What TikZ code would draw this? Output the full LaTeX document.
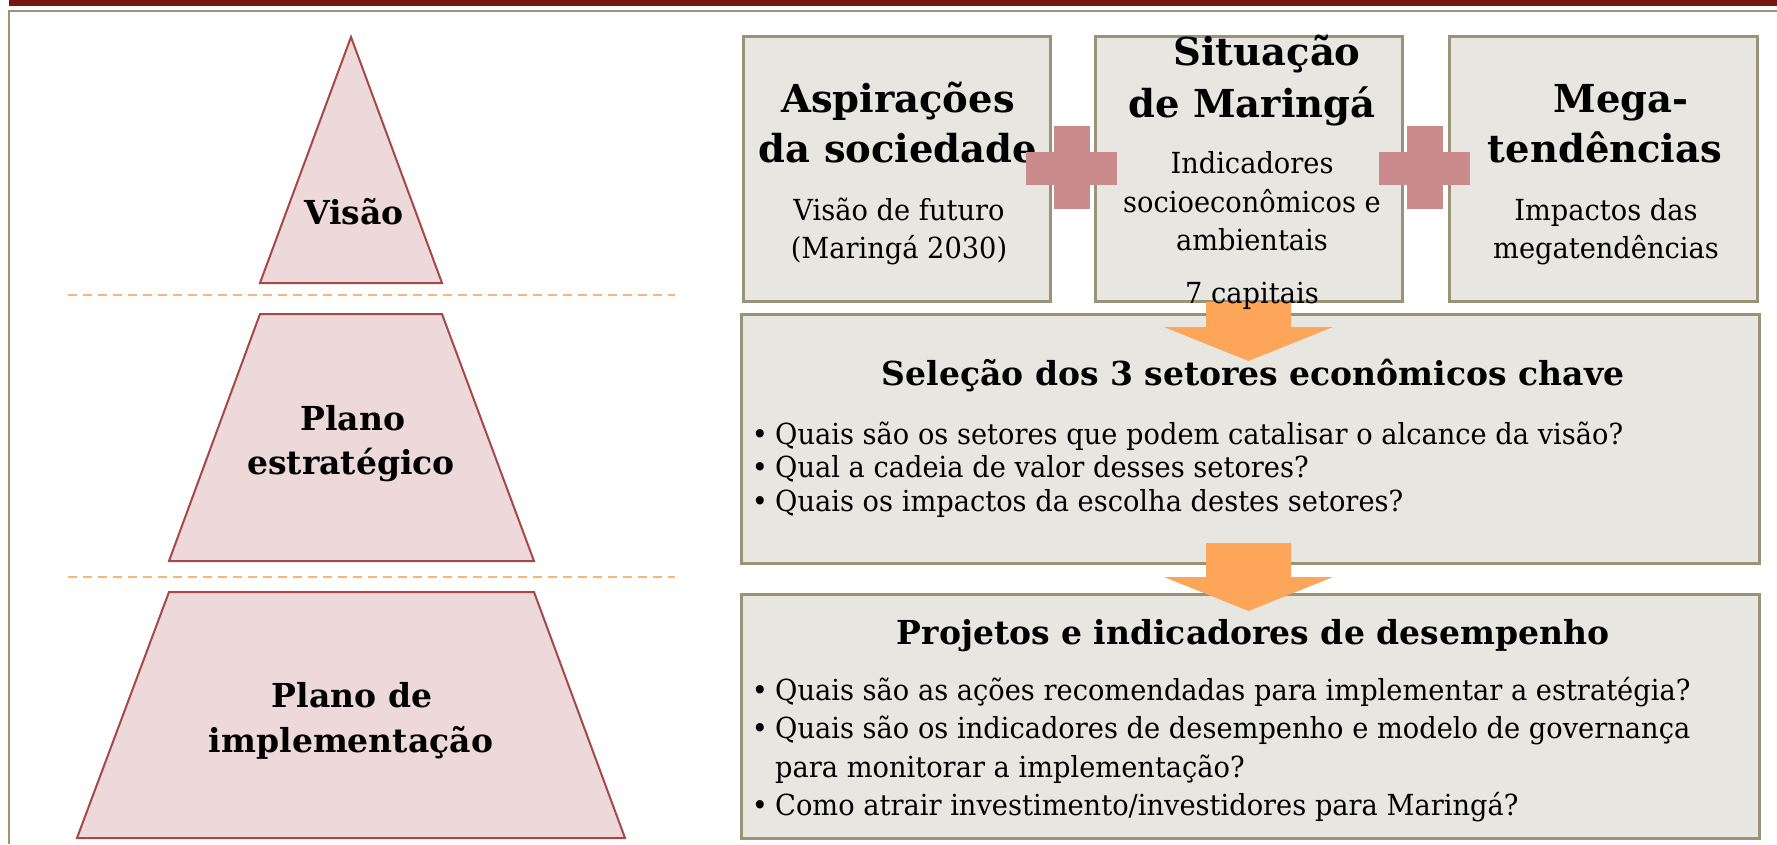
\documentclass[tikz,border=0pt]{standalone}
\usepackage{fontspec}
\setmainfont{DejaVu Serif}
\newfontfamily\bodyfont[FakeStretch=0.94]{DejaVu Serif}
\definecolor{barred}{RGB}{122,21,15}
\definecolor{framecol}{RGB}{160,148,116}
\definecolor{boxfill}{RGB}{232,230,225}
\definecolor{boxline}{RGB}{155,147,120}
\definecolor{pyrfill}{RGB}{237,217,217}
\definecolor{pyrline}{RGB}{165,72,72}
\definecolor{pluscol}{RGB}{203,138,139}
\definecolor{arrowcol}{RGB}{253,166,90}
\definecolor{dashcol}{RGB}{251,180,122}
\tikzset{
 panel/.style={draw=boxline, line width=2.5pt, fill=boxfill, anchor=north west, inner sep=0pt},
 pyr/.style={draw=pyrline, line width=2pt, fill=pyrfill, line join=miter},
 ttl/.style={anchor=base, inner sep=0pt, font=\fontsize{38.5}{46}\selectfont\bfseries},
 ltl/.style={anchor=base, inner sep=0pt, font=\fontsize{33}{40}\selectfont\bfseries},
 body/.style={anchor=base, inner sep=0pt, font=\bodyfont\fontsize{29}{35}\selectfont},
 bultext/.style={body, anchor=base west},
 plusbar/.style={fill=pluscol},
 blockarrow/.style={fill=arrowcol},
 sepline/.style={draw=dashcol, line width=2pt, dash pattern=on 9pt off 6pt},
}
\begin{document}
\begin{tikzpicture}[x=1pt,y=-1pt]
\useasboundingbox (0,0) rectangle (1777,844);
% header bar and frame
\fill[barred] (9,0) rectangle (1777,6);
\draw[framecol, line width=2pt] (9,844) -- (9,11) -- (1777,11);

% pyramid
\draw[pyr] (351,37) -- (442,283) -- (260,283) -- cycle;
\draw[pyr] (260,314) -- (442,314) -- (534,561) -- (169,561) -- cycle;
\draw[pyr] (169,592) -- (534,592) -- (625,838) -- (77,838) -- cycle;
\node[ltl] (visao) at (354,224) {Visão};
\node[ltl] (plano1) at (353,430) {Plano};
\node[ltl] (plano2) at (351,474) {estratégico};
\node[ltl] (impl1) at (352,707) {Plano de};
\node[ltl] (impl2) at (351,752) {implementação};

% separators
\draw[sepline] (68,295) -- (675,295);
\draw[sepline] (68,577) -- (675,577);

% boxes
\node[panel, minimum width=307pt, minimum height=265pt] (asp) at (742,35) {};
\node[panel, minimum width=307pt, minimum height=265pt] (sit) at (1094,35) {};
\node[panel, minimum width=308pt, minimum height=265pt] (mega) at (1448,35) {};
\node[panel, minimum width=1018pt, minimum height=249pt] (sel) at (740,313) {};
\node[panel, minimum width=1018pt, minimum height=244pt] (proj) at (740,593) {};

% box 1 text
\node[ttl] (asp1) at (898,112) {Aspirações};
\node[ttl] (asp2) at (898,162) {da sociedade};
\node[body] (asp3) at (899,220) {Visão de futuro};
\node[body] (asp4) at (899,258) {(Maringá 2030)};
% box 2 text
\node[ttl] (sit1) at (1267,65) {Situação};
\node[ttl] (sit2) at (1252,117) {de Maringá};
\node[body] (sit3) at (1252,173) {Indicadores};
\node[body] (sit4) at (1252,212) {socioeconômicos e};
\node[body] (sit5) at (1252,250) {ambientais};
% box 3 text
\node[ttl] (mega1) at (1621,112) {Mega-};
\node[ttl] (mega2) at (1605,162) {tendências};
\node[body] (mega3) at (1606,220) {Impactos das};
\node[body] (mega4) at (1606,258) {megatendências};

% selection box text
\node[ltl] (selt) at (1253,385) {Seleção dos 3 setores econômicos chave};
\node[body] (selb1) at (760,444) {•};
\node[bultext] (sel1) at (775,444) {Quais são os setores que podem catalisar o alcance da visão?};
\node[body] (selb2) at (760,477) {•};
\node[bultext] (sel2) at (775,477) {Qual a cadeia de valor desses setores?};
\node[body] (selb3) at (760,511) {•};
\node[bultext] (sel3) at (775,511) {Quais os impactos da escolha destes setores?};

% projects box text
\node[ltl] (projt) at (1253,644) {Projetos e indicadores de desempenho};
\node[body] (projb1) at (760,700) {•};
\node[bultext] (proj1) at (775,700) {Quais são as ações recomendadas para implementar a estratégia?};
\node[body] (projb2) at (760,738) {•};
\node[bultext] (proj2) at (775,738) {Quais são os indicadores de desempenho e modelo de governança};
\node[bultext] (proj3) at (775,777) {para monitorar a implementação?};
\node[body] (projb4) at (760,815) {•};
\node[bultext] (proj4) at (775,815) {Como atrair investimento/investidores para Maringá?};

% plus signs
\fill[plusbar] (1054,126) rectangle (1090,209);
\fill[plusbar] (1026,152) rectangle (1117,185);
\fill[plusbar] (1406.5,126) rectangle (1442.5,209);
\fill[plusbar] (1379,152) rectangle (1470,185);

% block arrows
\fill[blockarrow] (1206,302) -- (1291,302) -- (1291,327) -- (1333,327) -- (1248.5,361) -- (1164,327) -- (1206,327) -- cycle;
\fill[blockarrow] (1206,543) -- (1291,543) -- (1291,577) -- (1333,577) -- (1248.5,611) -- (1164,577) -- (1206,577) -- cycle;

\node[body] (sit6) at (1252,303) {7 capitais};
\end{tikzpicture}
\end{document}
